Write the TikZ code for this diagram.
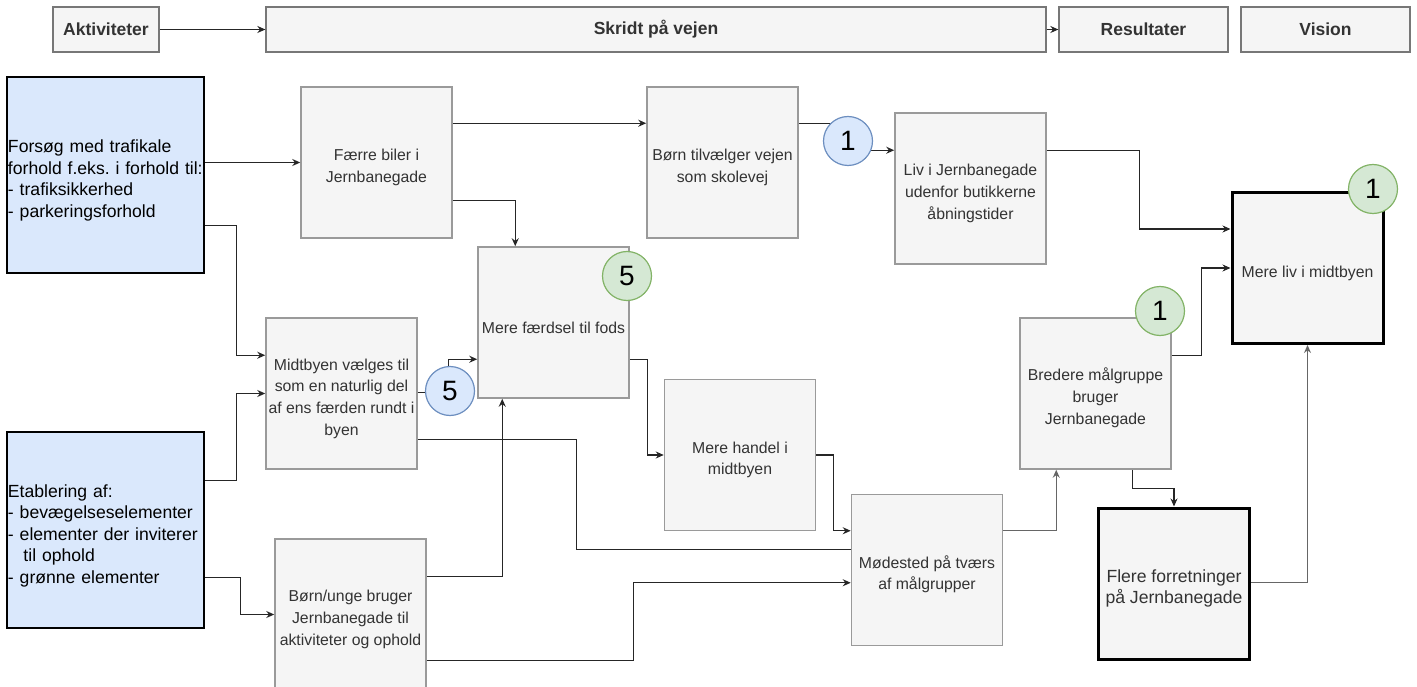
\documentclass[tikz,border=0pt]{standalone}
\usepackage{fontspec}
\setmainfont{Liberation Sans}
\usetikzlibrary{calc,arrows.meta}
\definecolor{boxfill}{HTML}{F5F5F5}
\definecolor{gline}{HTML}{9A9A9A}
\definecolor{hdrline}{HTML}{777777}
\definecolor{txt}{HTML}{333333}
\definecolor{bluefill}{HTML}{DAE8FC}
\definecolor{bluestroke}{HTML}{6C8EBF}
\definecolor{greenfill}{HTML}{D5E8D4}
\definecolor{greenstroke}{HTML}{82B366}
\definecolor{lgray}{HTML}{666666}
\newcommand\gstrut{\rule{0pt}{21.5pt}}
\newcommand\bstrut{\rule{0pt}{24pt}}
\frenchspacing
\begin{document}
\begin{tikzpicture}[x=1pt,y=-1pt,
  hdr/.style={draw=hdrline, fill=boxfill, line width=1.3pt, minimum height=45pt, inner sep=0pt,
    font=\fontsize{17.5}{21}\selectfont\bfseries, text=txt},
  gbox/.style={draw=gline, fill=boxfill, line width=1.5pt, minimum width=151pt, minimum height=151pt,
    inner sep=0pt, align=center, font=\fontsize{15.8}{21.7}\selectfont, text=txt},
  tbox/.style={gbox, draw=black, line width=3pt},
  bbox/.style={draw=black, fill=bluefill, line width=2.5pt, minimum width=197pt, minimum height=196pt,
    inner xsep=1pt, inner ysep=0pt, text width=195pt, align=left, font=\fontsize{17.6}{21.5}\selectfont},
  num/.style={circle, minimum size=49pt, inner sep=0pt, line width=1.2pt, font=\fontsize{28}{28}\selectfont},
  numb/.style={num, draw=bluestroke, fill=bluefill},
  numg/.style={num, draw=greenstroke, fill=greenfill},
  arr/.style={-{Stealth[length=8pt,width=7pt]}, line width=1.3pt, draw=black!85},
  ln/.style={line width=1.3pt, draw=black!85},
  garr/.style={arr, draw=lgray}]
\useasboundingbox (0,0) rectangle (1417,687);

% header
\node[hdr, minimum width=106pt] (akt) at (106,29.5) {Aktiviteter};
\node[hdr, minimum width=780pt] (skridt) at (656,29.5) {Skridt på vejen};
\node[hdr, minimum width=169pt] (res) at (1143.5,29.5) {Resultater};
\node[hdr, minimum width=169pt] (vision) at (1325.5,29.5) {Vision};

% activities
\node[bbox] (forsog) at (105.5,175) {\bstrut Forsøg med trafikale\\forhold f.eks. i forhold til:\\- trafiksikkerhed\\- parkeringsforhold};
\node[bbox] (etab) at (105.5,530) {\bstrut Etablering af:\\- bevægelseselementer\\- elementer der inviterer\\\hspace*{15.5pt}til ophold\\- grønne elementer};

% steps
\node[gbox] (faerre) at (376.5,162.5) {\gstrut Færre biler i\\Jernbanegade};
\node[gbox] (boern) at (722.5,162.5) {\gstrut Børn tilvælger vejen\\som skolevej};
\node[gbox] (liv) at (970.5,188.5) {\gstrut Liv i Jernbanegade\\udenfor butikkerne\\åbningstider};
\node[gbox] (midt) at (341.5,393.5) {\gstrut Midtbyen vælges til\\som en naturlig del\\af ens færden rundt i\\byen};
\node[gbox] (faerdsel) at (553.5,322.5) {\gstrut Mere færdsel til fods};
\node[gbox] (handel) at (740,455) {\gstrut Mere handel i\\midtbyen};
\node[gbox] (unge) at (350.5,614.5) {\gstrut Børn/unge bruger\\Jernbanegade til\\aktiviteter og ophold};
\node[gbox] (moede) at (927,570) {\gstrut Mødested på tværs\\af målgrupper};
\node[gbox] (bredere) at (1095.5,393.5) {\gstrut Bredere målgruppe\\bruger\\Jernbanegade};
\node[tbox, font=\fontsize{17.6}{21}\selectfont] (flere) at (1174,583.5) {\rule{0pt}{22pt}Flere forretninger\\på Jernbanegade};
\node[tbox] (mereliv) at (1307.5,268) {\gstrut Mere liv i midtbyen};

% connectors
\draw[arr] (akt.east) -- (skridt.west);
\draw[arr] (skridt.east) -- (res.west);
\draw[arr] (forsog.east |- faerre.west) -- (faerre.west);
\draw[arr] ($(forsog.south east)+(0,-49)$) -- ++(31,0) |- ($(midt.north west)+(0,38)$);
\draw[arr] ($(etab.north east)+(0,50)$) -- ++(31,0) |- (midt.west);
\draw[arr] ($(etab.north east)+(0,147)$) -- ++(35,0) |- (unge.west);
\draw[arr] ($(faerre.north east)+(0,37)$) -- ($(boern.north west)+(0,37)$);
\draw[arr] ($(faerre.north east)+(0,114)$) -| ($(faerdsel.north west)+(38,0)$);
\draw[arr] ($(boern.north east)+(0,37)$) -- ++(50,0) |- ($(liv.north west)+(0,38)$);
\draw[arr] ($(midt.north east)+(0,75)$) -- ++(31,0) |- ($(faerdsel.north west)+(0,113)$);
\draw[arr] ($(unge.north east)+(0,38)$) -| ($(faerdsel.south west)+(25,0)$);
\draw[ln] ($(midt.north east)+(0,122)$) -- ++(159,0) |- ($(moede.north west)+(0,56)$);
\draw[arr] ($(faerdsel.north east)+(0,113)$) -- ++(18,0) |- (handel.west);
\draw[arr] (handel.east) -- ++(17,0) |- ($(moede.north west)+(0,37)$);
\draw[arr] ($(unge.north east)+(0,122)$) -- ++(207,0) |- ($(moede.north west)+(0,89)$);
\draw[garr] ($(moede.north east)+(0,37)$) -| ($(bredere.south west)+(37,0)$);
\draw[arr] ($(bredere.south west)+(113,0)$) -- ++(0,19) -| (flere.north);
\draw[garr] ($(flere.north east)+(0,76)$) -| (mereliv.south);
\draw[arr] ($(liv.north east)+(0,38)$) -- ++(93,0) |- ($(mereliv.north west)+(0,38)$);
\draw[arr] ($(bredere.north east)+(0,38)$) -- ++(30,0) |- (mereliv.west);

% number circles
\node[numb] (c1b) at (848,141) {1};
\node[numb] (c5b) at (450,391) {5};
\node[numg] (c5g) at (627,276) {5};
\node[numg] (c1gb) at (1160,311) {1};
\node[numg] (c1gm) at (1373,189) {1};
\end{tikzpicture}
\end{document}
